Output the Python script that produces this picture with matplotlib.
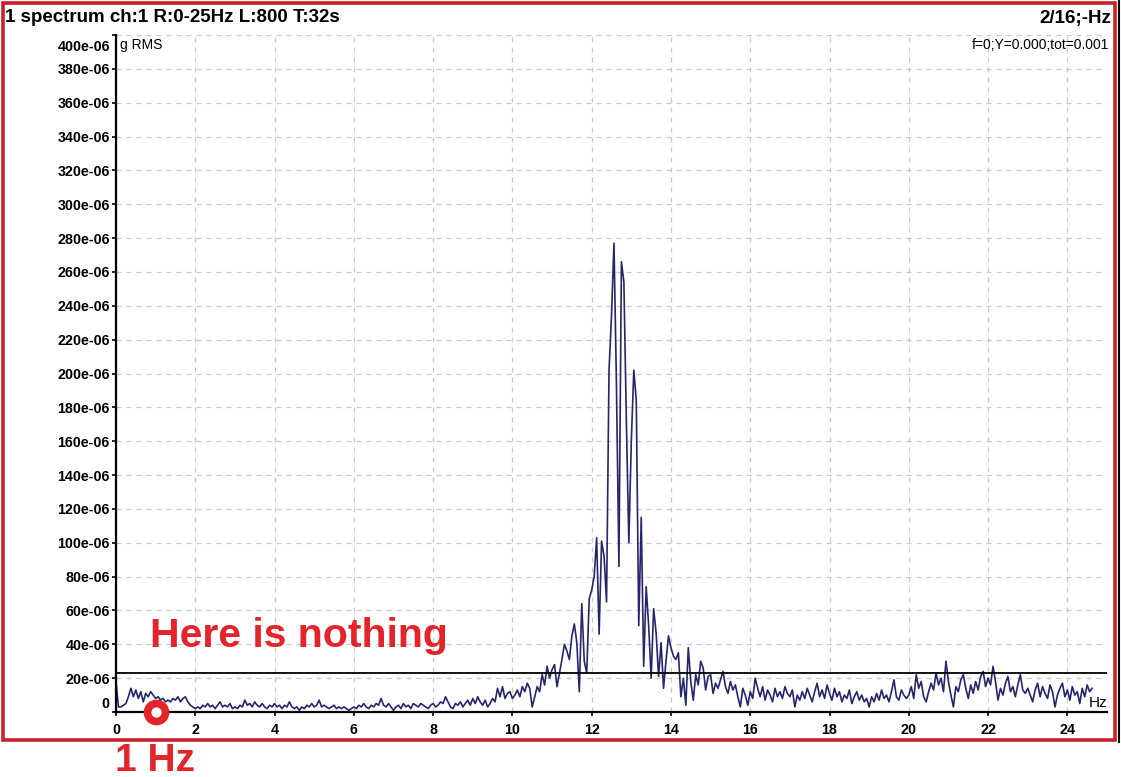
import numpy as np
import matplotlib
matplotlib.use("Agg")
import matplotlib.pyplot as plt
from matplotlib.patches import Rectangle
from matplotlib.lines import Line2D
from matplotlib.transforms import offset_copy

plt.rcParams["font.family"] = ["Liberation Sans", "DejaVu Sans"]

# spectrum amplitude in micro-g RMS, one value per 0.0625 Hz (every 2nd line of 800)
FREQ_STEP = 0.0625
amp_low = [  # 0 .. 9.94 Hz
    18, 3, 3, 4, 5, 9, 14, 9, 13, 8, 12, 6, 11, 9, 12, 10,
    8, 9, 7, 8, 6, 7, 6, 8, 7, 9, 6, 8, 9, 6, 4, 3,
    2, 3, 2, 4, 3, 5, 3, 4, 2, 4, 6, 3, 4, 3, 5, 2,
    3, 2, 4, 3, 7, 4, 5, 3, 6, 4, 3, 5, 3, 2, 4, 3,
    5, 3, 4, 2, 4, 3, 6, 3, 2, 3, 1, 3, 2, 4, 3, 5,
    3, 4, 7, 3, 4, 3, 2, 3, 4, 2, 3, 2, 3, 2, 1, 2,
    3, 2, 4, 3, 5, 3, 2, 4, 3, 5, 4, 8, 4, 3, 5, 3,
    1, 3, 4, 2, 5, 3, 4, 2, 5, 4, 3, 5, 4, 3, 2, 4,
    5, 3, 4, 6, 5, 9, 6, 3, 2, 5, 4, 6, 3, 5, 7, 4,
    8, 5, 9, 6, 4, 7, 3, 5, 8, 6, 14, 9, 15, 8, 11, 12,
]
amp_peak = [  # 10 .. 14.94 Hz
    8, 10, 13, 9, 15, 12, 17, 14, 3, 9, 15, 12, 22, 16, 27, 20,
    25, 28, 15, 23, 31, 40, 36, 31, 45, 52, 41, 12, 64, 30, 23, 67,
    72, 80, 103, 46, 101, 92, 65, 202, 234, 277, 193, 86, 266, 254, 172, 100,
    160, 202, 184, 51, 115, 27, 74, 51, 20, 61, 47, 21, 41, 14, 30, 45,
    38, 33, 31, 35, 9, 20, 4, 38, 18, 7, 22, 16, 30, 26, 13, 21,
]
amp_high = [  # 15 .. 24.625 Hz
    22, 11, 17, 14, 19, 24, 15, 11, 18, 13, 16, 9, 3, 14, 10, 4,
    12, 8, 20, 14, 9, 15, 7, 13, 10, 6, 14, 9, 12, 8, 15, 11,
    9, 13, 3, 10, 7, 12, 8, 14, 10, 6, 12, 17, 9, 13, 8, 16,
    11, 7, 14, 9, 12, 6, 10, 8, 13, 5, 9, 12, 7, 10, 6, 8,
    3, 9, 6, 11, 7, 13, 8, 10, 6, 12, 19, 9, 7, 13, 10, 8,
    10, 15, 8, 22, 14, 18, 9, 6, 12, 17, 13, 23, 16, 20, 12, 30,
    18, 10, 3, 15, 12, 19, 22, 14, 8, 16, 11, 18, 13, 21, 24, 15,
    20, 16, 27, 18, 7, 14, 10, 17, 21, 12, 15, 9, 16, 22, 13, 11,
    14, 10, 6, 13, 17, 9, 15, 11, 8, 16, 12, 3, 10, 14, 17, 9,
    13, 7, 15, 10, 12, 5, 14, 9, 16, 12, 14,
]
threshold = 23  # micro-g
y_ticks = list(range(0, 401, 20))
x_ticks = list(range(0, 25, 2))

RED = "#e3252b"
NAVY = "#26266e"
W, H = 1121, 777

amp = np.array(amp_low + amp_peak + amp_high) * 1e-6
freqs = np.arange(len(amp)) * FREQ_STEP

fig = plt.figure(figsize=(W / 100, H / 100), dpi=100)
fig.set_facecolor("white")
ax = fig.add_axes([116 / W, 1 - 712 / H, (1107 - 116) / W, (712 - 35) / H])

ax.plot(freqs, amp, color=NAVY, lw=1.2)
ax.axhline(threshold * 1e-6, color="black", lw=1.3)

ax.set_xlim(0, 25)
ax.set_ylim(0, 400e-6)
ax.set_xticks(x_ticks)
ax.set_yticks([v * 1e-6 for v in y_ticks])
ax.set_yticklabels(["0" if v == 0 else f"{v}e-06" for v in y_ticks])
ax.grid(True, ls=(0, (4, 4)), color="#c9c9c9", lw=0.9)
ax.set_axisbelow(True)
for s in ("top", "right"):
    ax.spines[s].set_visible(False)
for s in ("left", "bottom"):
    ax.spines[s].set_linewidth(1.6)
    ax.spines[s].set_color("black")
ax.tick_params(axis="both", length=3, width=1.2, pad=1.5, labelsize=10.3)
ax.tick_params(axis="x", pad=5)
for lab in ax.get_xticklabels() + ax.get_yticklabels():
    lab.set_fontweight("bold")

# the first and last y labels sit inside the axis range in the original
t0 = ax.yaxis.get_major_ticks()[0].label1
t0.set_transform(offset_copy(t0.get_transform(), fig=fig, y=9, units="dots"))
t1 = ax.yaxis.get_major_ticks()[-1].label1
t1.set_transform(offset_copy(t1.get_transform(), fig=fig, y=-10, units="dots"))

# header texts
fig.text(5 / W, 1 - 18 / H, "1 spectrum ch:1 R:0-25Hz L:800 T:32s",
         fontsize=13.5, fontweight="bold", va="center", ha="left")
fig.text(1111 / W, 1 - 18 / H, "2/16;-Hz",
         fontsize=13.5, fontweight="bold", va="center", ha="right")
fig.text(1109 / W, 1 - 45 / H, "f=0;Y=0.000;tot=0.001",
         fontsize=10, va="center", ha="right")
fig.text(120 / W, 1 - 45 / H, "g RMS", fontsize=10, va="center", ha="left")
fig.text(1107 / W, 1 - 703 / H, "Hz", fontsize=11, va="center", ha="right")

# annotations
fig.text(150 / W, 1 - 647 / H, "Here is nothing", color=RED,
         fontsize=29.5, fontweight="bold", va="baseline", ha="left")
fig.text(115 / W, 1 - 771 / H, "1 Hz", color=RED,
         fontsize=28, fontweight="bold", va="baseline", ha="left")
ax.plot([1.0], [0], marker="o", ms=13, mew=5.5, mfc="white", mec=RED,
        clip_on=False, zorder=5)

# frame
fig.add_artist(Rectangle((3 / W, 1 - 740 / H), (1115 - 3) / W, (740 - 3) / H,
                         fill=False, ec="#c8202a", lw=2.6,
                         transform=fig.transFigure))
fig.add_artist(Line2D([1119 / W, 1119 / W], [1 - 742 / H, 1.0],
                      color="black", lw=1.5, transform=fig.transFigure))

fig.savefig("out.png", dpi=100)
